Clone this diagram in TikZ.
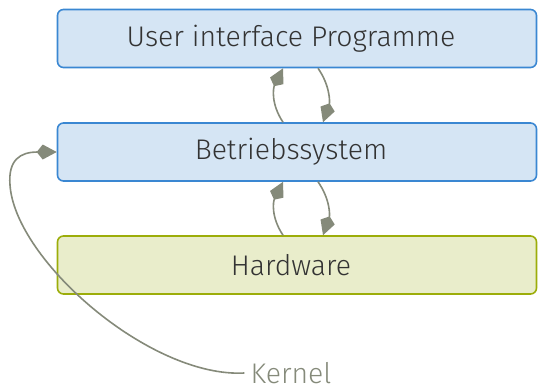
\documentclass[tikz,border=0pt]{standalone}
\usepackage{fontspec}
\setmainfont{Fira Sans Light}
\usetikzlibrary{arrows.meta}
\definecolor{bluefill}{HTML}{D5E5F4}
\definecolor{blueline}{HTML}{3A87D2}
\definecolor{greenfill}{HTML}{E9EDCB}
\definecolor{greenline}{HTML}{9CAD0A}
\definecolor{arrowgray}{HTML}{858A7A}
\definecolor{textdark}{HTML}{333333}
\begin{document}
\begin{tikzpicture}[x=1bp,y=-1bp,
  layer/.style={rounded corners=6bp, line width=1.6bp, minimum width=479bp, minimum height=58bp,
    inner sep=0pt, text=textdark, font=\fontsize{28.5}{32}\selectfont},
  bluebox/.style={layer, draw=blueline, fill=bluefill},
  greenbox/.style={layer, draw=greenline, fill=greenfill},
  conn/.style={draw=arrowgray, line width=1.6bp, -{Kite[length=20bp,width=15bp,inset=6bp]}, arrowgray}
]
\useasboundingbox (0,0) rectangle (538,391);
\node[bluebox] (b1) at (297,38.5) {\hspace*{-12bp}User interface Programme};
\node[bluebox] (b2) at (297,152) {\hspace*{-12bp}Betriebssystem};
\node[greenbox] (b3) at (297,265) {\hspace*{-12bp}Hardware};
\node[text=arrowgray, font=\fontsize{28.5}{32}\selectfont, inner sep=6bp] (k) at (291,373) {Kernel};

\coordinate (a1s) at ([xshift=-14bp]b2.north);
\coordinate (a1e) at ([xshift=-14bp]b1.south);
\coordinate (a2s) at ([xshift=21bp]b1.south);
\coordinate (a2e) at ([xshift=26bp]b2.north);
\coordinate (a3s) at ([xshift=-14bp]b3.north);
\coordinate (a3e) at ([xshift=-14bp]b2.south);
\coordinate (a4s) at ([xshift=21bp]b2.south);
\coordinate (a4e) at ([xshift=26bp]b3.north);

\draw[conn] (a1s) .. controls +(-12,-18) and +(-10,20) .. (a1e);
\draw[conn] (a2s) .. controls +(12,17) and +(7,-20) .. (a2e);
\draw[conn] (a3s) .. controls +(-12,-18) and +(-10,20) .. (a3e);
\draw[conn] (a4s) .. controls +(12,17) and +(7,-20) .. (a4e);

\coordinate (kb) at (10,185);
\draw[conn] (k.west) .. controls (150,378) and (15,260) .. (kb) .. controls (8,160) and (20,152) .. (b2.west);
\end{tikzpicture}
\end{document}
